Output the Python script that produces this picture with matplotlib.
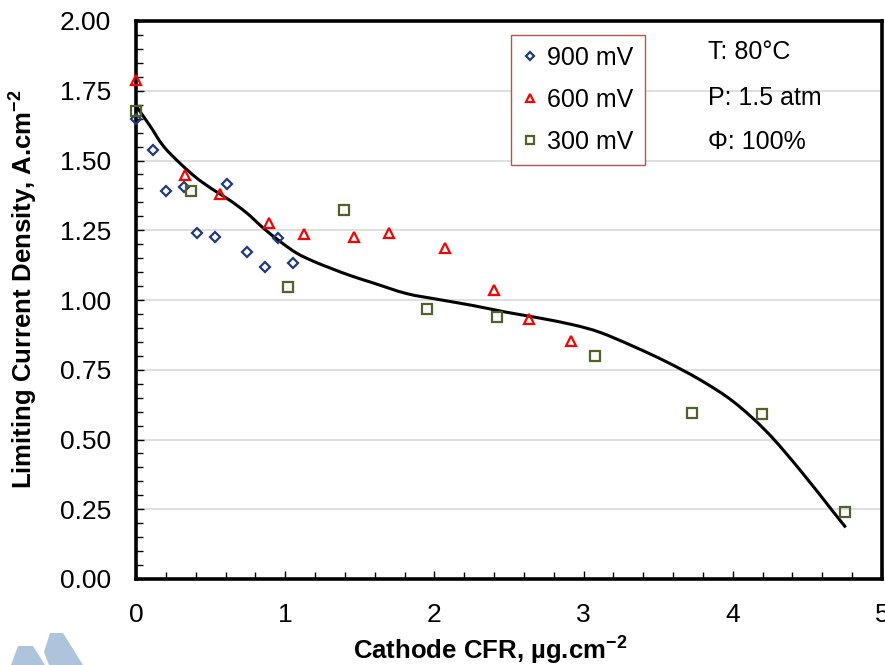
import matplotlib
matplotlib.use("Agg")
import matplotlib.pyplot as plt
from matplotlib.ticker import MultipleLocator
from matplotlib.patches import Polygon, PathPatch
from matplotlib.path import Path

plt.rcParams['font.family'] = ['Liberation Sans', 'DejaVu Sans']
plt.rcParams['mathtext.fontset'] = 'custom'
plt.rcParams['mathtext.rm'] = 'Liberation Sans'
plt.rcParams['mathtext.bf'] = 'Liberation Sans:bold'

# ---- data ----
x900 = [0.0, 0.116, 0.199, 0.322, 0.407, 0.53, 0.612, 0.744, 0.867, 0.954, 1.054]
y900 = [1.650, 1.538, 1.391, 1.405, 1.240, 1.227, 1.415, 1.173, 1.117, 1.224, 1.134]

x600 = [0.0, 0.328, 0.563, 0.891, 1.126, 1.461, 1.696, 2.071, 2.40, 2.634, 2.913]
y600 = [1.790, 1.447, 1.379, 1.275, 1.238, 1.227, 1.241, 1.186, 1.035, 0.932, 0.852]

x300 = [0.0, 0.369, 1.021, 1.396, 1.953, 2.42, 3.074, 3.724, 4.194, 4.752]
y300 = [1.678, 1.391, 1.045, 1.321, 0.969, 0.938, 0.798, 0.595, 0.591, 0.239]

xfit = [0.0, 0.094, 0.183, 0.295, 0.407, 0.518, 0.63, 0.742, 0.853, 0.965, 1.077,
        1.188, 1.30, 1.434, 1.59, 1.814, 2.037, 2.26, 2.485, 2.708, 2.931, 3.11,
        3.333, 3.557, 3.78, 4.003, 4.227, 4.45, 4.673, 4.757]
yfit = [1.696, 1.624, 1.552, 1.490, 1.437, 1.395, 1.357, 1.312, 1.258, 1.21, 1.168,
        1.139, 1.115, 1.088, 1.061, 1.023, 1.001, 0.980, 0.956, 0.935, 0.911, 0.884,
        0.834, 0.778, 0.714, 0.636, 0.528, 0.391, 0.241, 0.185]

labels = ['900 mV', '600 mV', '300 mV']
conditions = ['T: 80°C', 'P: 1.5 atm', 'Φ: 100%']

W, H = 885, 665
fig = plt.figure(figsize=(W / 100, H / 100), dpi=100)
ax = fig.add_axes([136 / W, 1 - 579 / H, (882 - 136) / W, (579 - 21) / H])

# smooth curve through the read points (Catmull-Rom rendered as Bezier path)
n = len(xfit)
verts = [(xfit[0], yfit[0])]
codes = [Path.MOVETO]
for i in range(n - 1):
    p0 = (xfit[max(i - 1, 0)], yfit[max(i - 1, 0)])
    p1 = (xfit[i], yfit[i])
    p2 = (xfit[i + 1], yfit[i + 1])
    p3 = (xfit[min(i + 2, n - 1)], yfit[min(i + 2, n - 1)])
    c1 = (p1[0] + (p2[0] - p0[0]) / 6, p1[1] + (p2[1] - p0[1]) / 6)
    c2 = (p2[0] - (p3[0] - p1[0]) / 6, p2[1] - (p3[1] - p1[1]) / 6)
    verts += [c1, c2, p2]
    codes += [Path.CURVE4] * 3
ax.add_patch(PathPatch(Path(verts, codes), fill=False, edgecolor='black', lw=2.2,
                       zorder=3, capstyle='butt'))

ax.plot(x900, y900, ls='none', marker='D', ms=5.2, mfc='none', mec='#1f3b7c',
        mew=1.6, label=labels[0], clip_on=False, zorder=4)
ax.plot(x600, y600, ls='none', marker='^', ms=7.5, mfc='none', mec='#ff0000',
        mew=1.6, label=labels[1], clip_on=False, zorder=4)
ax.plot(x300, y300, ls='none', marker='s', ms=6.8, mfc='none', mec='#4f6228',
        mew=1.6, label=labels[2], clip_on=False, zorder=4)

ax.set_xlim(0, 5)
ax.set_ylim(0, 2)
ax.xaxis.set_major_locator(MultipleLocator(1))
ax.xaxis.set_minor_locator(MultipleLocator(0.2))
ax.yaxis.set_major_locator(MultipleLocator(0.25))
ax.yaxis.set_minor_locator(MultipleLocator(0.05))
ax.yaxis.set_major_formatter(plt.FormatStrFormatter('%.2f'))

ax.grid(axis='y', which='major', color='#d9d9d9', lw=1.2, zorder=0)
ax.set_axisbelow(True)
for s in ax.spines.values():
    s.set_linewidth(2.6)
ax.tick_params(which='both', direction='in', width=1.0, top=False, right=False,
               labelsize=19)
ax.tick_params(axis='y', which='major', length=6, pad=18)
ax.tick_params(axis='y', which='minor', length=5)
ax.tick_params(axis='x', which='major', length=6, pad=17)
ax.tick_params(axis='x', which='minor', length=5)

ax.set_xlabel(r'Cathode CFR, µg.cm$^{\mathbf{-2}}$', fontsize=18.5, fontweight='bold',
              labelpad=5)
ax.set_ylabel(r'Limiting Current Density, A.cm$^{\mathbf{-2}}$', fontsize=18.5,
              fontweight='bold', labelpad=15)
ax.xaxis.label.set_x(0.475)
ax.yaxis.label.set_y(0.52)

leg = ax.legend(loc='upper left', bbox_to_anchor=(0.503, 0.975), fontsize=18,
                frameon=True, fancybox=False, edgecolor='#c0504d', framealpha=1,
                handlelength=0.6, handletextpad=0.4, borderpad=0.45,
                labelspacing=0.72, markerscale=0.75, borderaxespad=0)
leg.get_frame().set_linewidth(1.0)

for txt, yy in zip(conditions, [0.944, 0.862, 0.783]):
    ax.text(0.767, yy, txt, transform=ax.transAxes, fontsize=18, va='center',
            ha='left')

# faint logo fragment at bottom-left
logo_col = '#aec3dc'
for pts in ([(11, 665), (18, 646), (33, 646), (45, 665)],
            [(49, 665), (44, 652), (50, 633), (63, 633), (83, 665)]):
    fig.patches.append(Polygon([(px / W, 1 - py / H) for px, py in pts], closed=True,
                               transform=fig.transFigure, color=logo_col, lw=0,
                               zorder=0))

fig.savefig('out.png', dpi=100)
